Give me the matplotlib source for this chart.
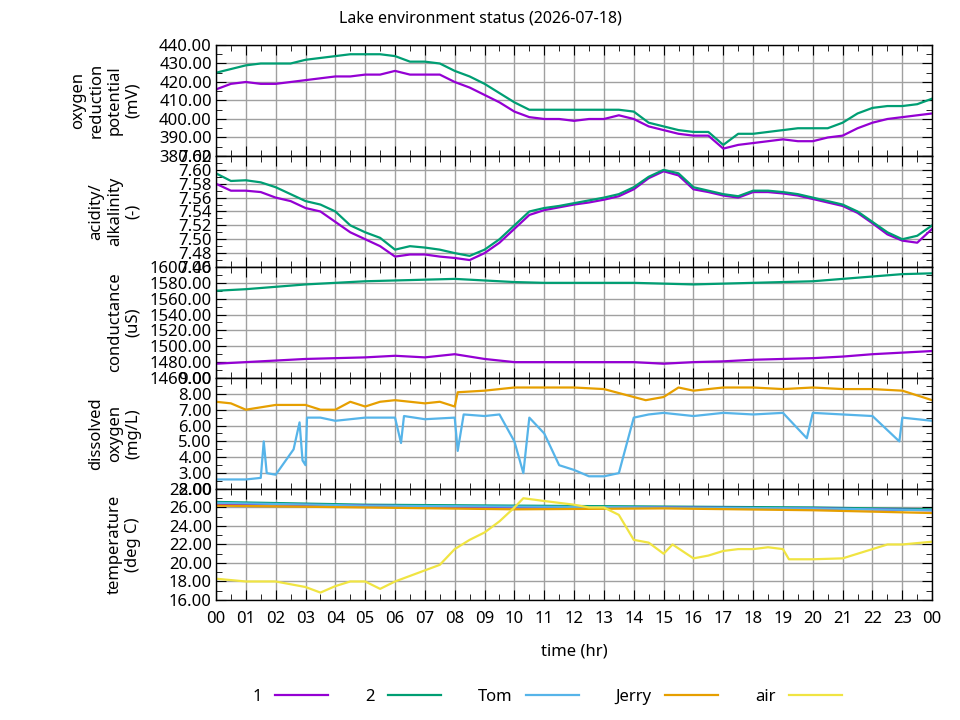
import numpy as np
import matplotlib
matplotlib.use("Agg")
import matplotlib.pyplot as plt
from matplotlib.ticker import MultipleLocator, FormatStrFormatter

plt.rcParams['font.family'] = ['Noto Sans', 'DejaVu Sans']
plt.rcParams['font.size'] = 11

c1 = '#9400d3'
c2 = '#009e73'
c_tom = '#56b4e9'
c_jerry = '#e69f00'
c_air = '#f0e442'

# half-hour samples
t_half = np.arange(0, 24.01, 0.5)

orp_1 = [416, 419, 420, 419, 419, 420, 421, 422, 423, 423, 424, 424, 426, 424, 424, 424, 420, 417, 413, 409,
         404, 401, 400, 400, 399, 400, 400, 402, 400, 396, 394, 392, 391, 391, 384, 386, 387, 388, 389, 388,
         388, 390, 391, 395, 398, 400, 401, 402, 403]
orp_2 = [425, 427, 429, 430, 430, 430, 432, 433, 434, 435, 435, 435, 434, 431, 431, 430, 426, 423, 419, 414,
         409, 405, 405, 405, 405, 405, 405, 405, 404, 398, 396, 394, 393, 393, 386, 392, 392, 393, 394, 395,
         395, 395, 398, 403, 406, 407, 407, 408, 411]

ph_1 = [7.58, 7.57, 7.57, 7.568, 7.56, 7.555, 7.545, 7.54, 7.525, 7.51, 7.50, 7.49, 7.475, 7.478, 7.478, 7.475,
        7.473, 7.47, 7.48, 7.495, 7.515, 7.535, 7.542, 7.546, 7.55, 7.553, 7.557, 7.562, 7.572, 7.588, 7.598,
        7.592, 7.572, 7.568, 7.563, 7.56, 7.568, 7.568, 7.566, 7.563, 7.558, 7.553, 7.548, 7.538, 7.523, 7.507,
        7.498, 7.495, 7.515]
ph_2 = [7.595, 7.584, 7.585, 7.582, 7.575, 7.565, 7.555, 7.55, 7.54, 7.52, 7.51, 7.502, 7.485, 7.49, 7.488, 7.485,
        7.48, 7.476, 7.485, 7.50, 7.52, 7.54, 7.545, 7.548, 7.552, 7.556, 7.56, 7.565, 7.575, 7.59, 7.60,
        7.595, 7.575, 7.57, 7.565, 7.562, 7.57, 7.57, 7.568, 7.565, 7.56, 7.555, 7.55, 7.54, 7.525, 7.51,
        7.50, 7.505, 7.52]

# hourly conductance
t_hour = np.arange(0, 25)
cond_1 = [1478, 1480, 1482, 1484, 1485, 1486, 1488, 1486, 1490, 1484, 1480, 1480, 1480, 1480, 1480, 1478,
          1480, 1481, 1483, 1484, 1485, 1487, 1490, 1492, 1494]
cond_2 = [1570, 1572, 1575, 1578, 1580, 1582, 1583, 1584, 1585, 1583, 1581, 1580, 1580, 1580, 1580, 1579,
          1578, 1579, 1580, 1581, 1582, 1585, 1588, 1591, 1592]

t_tom = [0, 1, 1.5, 1.6, 1.7, 2, 2.3, 2.6, 2.8, 2.9, 3, 3.05, 3.5, 4, 5, 6, 6.2, 6.3, 7, 8, 8.1, 8.3, 9, 9.5,
         10, 10.3, 10.5, 11, 11.5, 12, 12.5, 13, 13.5, 14, 14.5, 15, 16, 17, 18, 19, 19.8, 20, 21, 22, 22.9, 23, 24]
do_tom = [2.6, 2.6, 2.7, 5.0, 3.0, 2.9, 3.7, 4.5, 6.2, 3.8, 3.5, 6.5, 6.5, 6.3, 6.5, 6.5, 4.9, 6.6, 6.4, 6.5,
          4.4, 6.7, 6.6, 6.7, 5.0, 3.0, 6.5, 5.5, 3.5, 3.2, 2.8, 2.8, 3.0, 6.5, 6.7, 6.8, 6.6, 6.8, 6.7, 6.8,
          5.2, 6.8, 6.7, 6.6, 5.0, 6.5, 6.3]
t_jerry = [0, 0.5, 1, 2, 3, 3.5, 4, 4.5, 5, 5.5, 6, 7, 7.5, 8, 8.1, 9, 10, 11, 12, 13, 14, 14.4, 15, 15.5,
           16, 17, 18, 19, 20, 21, 22, 23, 24]
do_jerry = [7.5, 7.4, 7.0, 7.3, 7.3, 7.0, 7.0, 7.5, 7.2, 7.5, 7.6, 7.4, 7.5, 7.2, 8.1, 8.2, 8.4, 8.4, 8.4,
            8.3, 7.8, 7.6, 7.8, 8.4, 8.2, 8.4, 8.4, 8.3, 8.4, 8.3, 8.3, 8.2, 7.6]

temp_1 = [26.4, 26.2, 26.0, 26.0, 25.9, 25.7]
temp_2 = [26.6, 26.3, 26.2, 26.1, 26.0, 25.8]
temp_tom = [26.5, 26.2, 26.1, 26.0, 25.9, 25.7]
temp_jerry = [26.2, 26.0, 25.8, 25.9, 25.7, 25.4]
t_temp = [0, 5, 10, 15, 20, 24]
t_air = [0, 1, 2, 3, 3.5, 4, 4.5, 5, 5.5, 6, 7, 7.5, 8, 8.5, 9, 9.5, 10, 10.3, 11, 11.5, 12, 12.5, 13,
         13.5, 14, 14.5, 15, 15.3, 16, 16.5, 17, 17.5, 18, 18.5, 19, 19.2, 20, 21, 21.5, 22, 22.5, 23, 24]
temp_air = [18.3, 18.0, 18.0, 17.4, 16.8, 17.5, 18.0, 18.0, 17.2, 18.0, 19.2, 19.8, 21.5, 22.5, 23.3, 24.5,
            26.0, 27.0, 26.7, 26.5, 26.3, 26.0, 26.0, 25.2, 22.5, 22.2, 21.0, 22.0, 20.5, 20.8, 21.3, 21.5,
            21.5, 21.7, 21.5, 20.4, 20.4, 20.5, 21.0, 21.5, 22.0, 22.0, 22.3]

hour_labels = ['%02d' % (h % 24) for h in range(25)]

fig, axes = plt.subplots(5, 1, figsize=(9.6, 7.2), dpi=100, sharex=True)
fig.subplots_adjust(left=0.225, right=0.971, top=0.9375, bottom=0.1667, hspace=0)

lw = 1.6
a = axes[0]
a.plot(t_half, orp_1, color=c1, lw=lw, label='1')
a.plot(t_half, orp_2, color=c2, lw=lw, label='2')
a.plot([], [], color=c_tom, lw=lw, label='Tom')
a.plot([], [], color=c_jerry, lw=lw, label='Jerry')
a.plot([], [], color=c_air, lw=lw, label='air')
a.set_ylim(380, 440)
a.yaxis.set_major_locator(MultipleLocator(10))
a.yaxis.set_minor_locator(MultipleLocator(5))
a.set_ylabel('oxygen\nreduction\npotential\n(mV)')

a = axes[1]
a.plot(t_half, ph_1, color=c1, lw=lw)
a.plot(t_half, ph_2, color=c2, lw=lw)
a.set_ylim(7.46, 7.62)
a.yaxis.set_major_locator(MultipleLocator(0.02))
a.yaxis.set_minor_locator(MultipleLocator(0.01))
a.set_ylabel('acidity/\nalkalinity\n(-)')

a = axes[2]
a.plot(t_hour, cond_1, color=c1, lw=lw)
a.plot(t_hour, cond_2, color=c2, lw=lw)
a.set_ylim(1460, 1600)
a.yaxis.set_major_locator(MultipleLocator(20))
a.yaxis.set_minor_locator(MultipleLocator(10))
a.set_ylabel('conductance\n(uS)')

a = axes[3]
a.plot(t_jerry, do_jerry, color=c_jerry, lw=lw)
a.plot(t_tom, do_tom, color=c_tom, lw=lw)
a.set_ylim(2, 9)
a.yaxis.set_major_locator(MultipleLocator(1))
a.yaxis.set_minor_locator(MultipleLocator(0.5))
a.set_ylabel('dissolved\noxygen\n(mg/L)')

a = axes[4]
a.plot(t_temp, temp_2, color=c2, lw=lw)
a.plot(t_temp, temp_1, color=c1, lw=lw)
a.plot(t_temp, temp_tom, color=c_tom, lw=lw)
a.plot(t_temp, temp_jerry, color=c_jerry, lw=lw)
a.plot(t_air, temp_air, color=c_air, lw=lw)
a.set_ylim(16, 28)
a.yaxis.set_major_locator(MultipleLocator(2))
a.yaxis.set_minor_locator(MultipleLocator(1))
a.set_ylabel('temperature\n(deg C)')

for a in axes:
    a.set_xlim(0, 24)
    a.xaxis.set_major_locator(MultipleLocator(1))
    a.xaxis.set_minor_locator(MultipleLocator(0.5))
    a.yaxis.set_major_formatter(FormatStrFormatter('%.2f'))
    a.grid(True, which='major', color='#a0a0a0', lw=1)
    a.tick_params(which='both', direction='in', top=True, right=True, labelsize=12, pad=3)
    a.tick_params(which='major', length=7)
    a.tick_params(which='minor', length=4)
    a.yaxis.label.set_size(12)
    a.yaxis.labelpad = 6
    for s in a.spines.values():
        s.set_linewidth(1)

axes[4].set_xticks(range(25))
axes[4].set_xticklabels(hour_labels)
axes[4].tick_params(axis='x', pad=8)
axes[4].set_xlabel('time (hr)', fontsize=12, labelpad=12)
fig.align_ylabels(axes)

fig.suptitle('Lake environment status (2026-07-18)', fontsize=11.5, y=0.985)
h, l = axes[0].get_legend_handles_labels()
fig.legend(h, l, loc='lower center', ncol=5, frameon=False, markerfirst=False,
           bbox_to_anchor=(0.57, 0.0), handlelength=3.2, columnspacing=2.2, fontsize=12)

fig.savefig('out.png')
